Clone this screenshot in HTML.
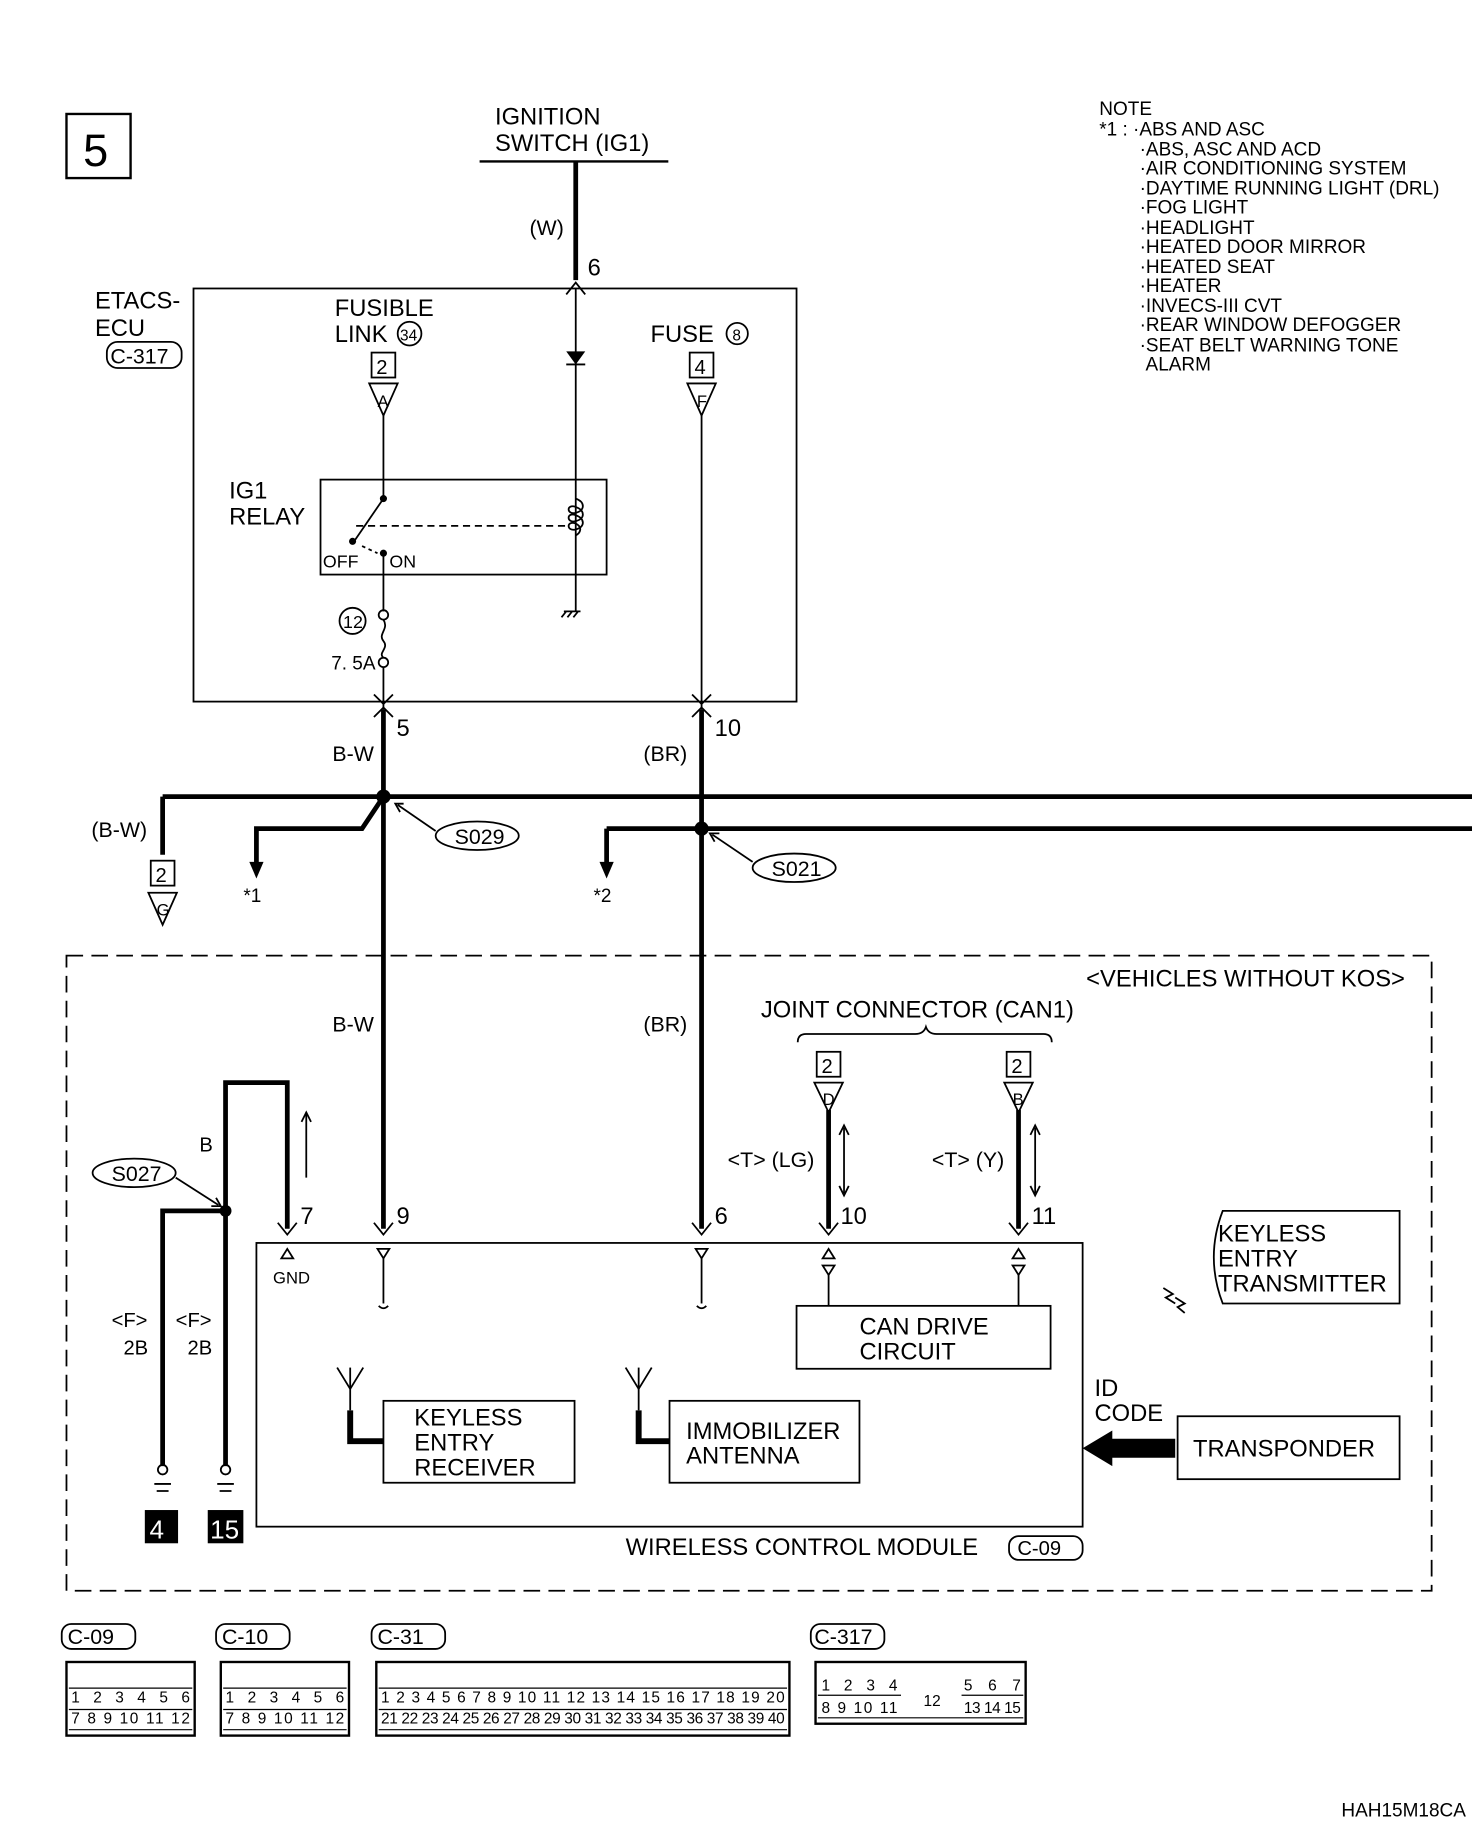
<!DOCTYPE html>
<html><head><meta charset="utf-8"><style>
html,body{margin:0;padding:0;background:#fff}
svg{display:block}
text{font-family:"Liberation Sans Narrow","Liberation Sans",sans-serif;fill:#000}
</style></head><body>
<svg width="1472" height="1846" viewBox="0 0 1240 1555" preserveAspectRatio="none" xmlns="http://www.w3.org/2000/svg">
<g fill="none" stroke="#000" stroke-width="1.5">
<!-- box 5 -->
<rect x="56" y="96" width="54" height="54" stroke-width="2"/>
<!-- ignition -->
<line x1="404" y1="136" x2="563" y2="136" stroke-width="2"/>
<line x1="485" y1="136" x2="485" y2="236" stroke-width="4"/>
<polyline points="477,248 485,238 493,248"/>
<!-- ETACS box -->
<rect x="163" y="243" width="508" height="348"/>
<rect x="90" y="288" width="63" height="22" rx="9"/>
<circle cx="345" cy="281" r="10"/>
<circle cx="621" cy="281" r="9"/>
<!-- fusible link connector -->
<rect x="313" y="297" width="20" height="21"/>
<polygon points="311,323 335,323 323,350"/>
<rect x="581" y="297" width="20" height="21"/>
<polygon points="579,323 603,323 591,350"/>
<line x1="323" y1="350" x2="323" y2="420"/>
<line x1="591" y1="350" x2="591" y2="598"/>
<!-- diode line -->
<line x1="485" y1="243" x2="485" y2="515"/>
<line x1="477" y1="307" x2="493" y2="307"/>
<path d="M477,515 l-4,5 M482,515 l-4,5 M487,515 l-4,5 M475,515 h14"/>
<!-- relay -->
<rect x="270" y="404" width="241" height="80"/>
<line x1="323" y1="420" x2="299" y2="455"/>
<line x1="300" y1="443" x2="480" y2="443" stroke-dasharray="6,4"/>
<path d="M305,460 L318,466" stroke-dasharray="3,3"/>
<line x1="323" y1="466" x2="323" y2="515"/>
<path d="M485,420 c8,3 8,10 0,12 c-8,2 -8,-8 0,-5 c8,3 8,10 0,12 c-8,2 -8,-8 0,-5 c8,3 8,10 0,12 c-8,2 -8,-8 0,-5 c6,3 4,8 0,10"/>
<circle cx="297" cy="523" r="11"/>
<circle cx="323" cy="518" r="4"/>
<circle cx="323" cy="558" r="4"/>
<path d="M323,522 c5,8 -5,12 0,18 c5,6 -5,10 0,14"/>
<line x1="323" y1="562" x2="323" y2="598"/>
<polyline points="315,585 323,593 331,585"/>
<polyline points="583,585 591,593 599,585"/>
<polyline points="315,604 323,596 331,604"/>
<polyline points="583,604 591,596 599,604"/>
</g>
<g fill="#000">
<circle cx="323" cy="420" r="3"/><circle cx="297" cy="456" r="3"/><circle cx="323" cy="466" r="3"/>
<polygon points="477,296 493,296 485,307"/>
</g>
<g fill="none" stroke="#000" stroke-width="4">
<line x1="323" y1="598" x2="323" y2="1035"/>
<line x1="591" y1="598" x2="591" y2="1035"/>
<line x1="137" y1="671" x2="1240" y2="671"/>
<line x1="511" y1="698" x2="1240" y2="698"/>
<polyline points="137,720 137,671"/>
<polyline points="323,671 305,698 216,698 216,728"/>
<line x1="511" y1="698" x2="511" y2="728"/>
<line x1="698" y1="935" x2="698" y2="1035"/>
<line x1="858" y1="935" x2="858" y2="1035"/>
<polyline points="242,1035 242,912 190,912 190,1235"/>
<polyline points="137,1235 137,1020 190,1020"/>
</g>
<g fill="#000">
<circle cx="323" cy="671" r="6"/><circle cx="591" cy="698" r="6"/><circle cx="190" cy="1020" r="5"/>
<polygon points="210,726 222,726 216,740"/><polygon points="505,726 517,726 511,740"/>
</g>
<g fill="none" stroke="#000" stroke-width="1.5">
<rect x="127" y="725" width="20" height="21"/>
<polygon points="125,752 149,752 137,779"/>
<ellipse cx="402" cy="704" rx="35" ry="12"/>
<line x1="367" y1="700" x2="335" y2="678"/><polyline points="340,677 333,677 337,684"/>
<ellipse cx="669" cy="731" rx="35" ry="12"/>
<line x1="634" y1="726" x2="600" y2="703"/><polyline points="606,702 598,702 602,709"/>
<rect x="56" y="805" width="1150" height="535" stroke-dasharray="14,7"/>
<path d="M672,878 q0,-7 7,-7 h92 q7,0 9,-6 q2,6 9,6 h90 q7,0 7,7"/>
<rect x="688" y="886" width="20" height="21"/>
<polygon points="686,912 710,912 698,937"/>
<rect x="848" y="886" width="20" height="21"/>
<polygon points="846,912 870,912 858,937"/>
<line x1="711" y1="950" x2="711" y2="1005"/><polyline points="707,956 711,948 715,956"/><polyline points="707,999 711,1007 715,999"/>
<line x1="872" y1="950" x2="872" y2="1005"/><polyline points="868,956 872,948 876,956"/><polyline points="868,999 872,1007 876,999"/>
<line x1="258" y1="937" x2="258" y2="992"/><polyline points="254,945 258,937 262,945"/>
<ellipse cx="113" cy="988" rx="35" ry="12"/>
<line x1="148" y1="992" x2="184" y2="1015"/><polyline points="178,1016 186,1016 182,1009"/>
<polyline points="234,1030 242,1040 250,1030"/><polyline points="315,1030 323,1040 331,1030"/><polyline points="583,1030 591,1040 599,1030"/><polyline points="690,1030 698,1040 706,1030"/><polyline points="850,1030 858,1040 866,1030"/>
<rect x="216" y="1047" width="696" height="239"/>
<polygon points="237,1060 247,1060 242,1052"/>
<polygon points="318,1052 328,1052 323,1060"/><line x1="323" y1="1060" x2="323" y2="1098"/><path d="M319,1100 q4,4 8,0"/>
<polygon points="586,1052 596,1052 591,1060"/><line x1="591" y1="1060" x2="591" y2="1098"/><path d="M587,1100 q4,4 8,0"/>
<polygon points="693,1060 703,1060 698,1052"/><polygon points="693,1066 703,1066 698,1074"/><line x1="698" y1="1074" x2="698" y2="1100"/>
<polygon points="853,1060 863,1060 858,1052"/><polygon points="853,1066 863,1066 858,1074"/><line x1="858" y1="1074" x2="858" y2="1100"/>
<rect x="671" y="1100" width="214" height="53"/>
<rect x="323" y="1180" width="161" height="69"/>
<rect x="564" y="1180" width="160" height="69"/>
<polyline points="284,1152 295,1170 306,1152"/><line x1="295" y1="1152" x2="295" y2="1188"/>
<polyline points="527,1152 538,1170 549,1152"/><line x1="538" y1="1152" x2="538" y2="1188"/>
<path d="M1030,1020 h149 v78 h-149 q-15,-39 0,-78z"/>
<rect x="992" y="1193" width="187" height="53"/>
<path d="M980,1085 l8,5 l-6,3 l8,5 M990,1093 l8,5 l-6,3 l6,5"/>
<circle cx="137" cy="1238" r="4"/><circle cx="190" cy="1238" r="4"/>
<path d="M130,1250 h14 M132,1256 h10 M183,1250 h14 M185,1256 h10"/>
<rect x="850" y="1294" width="62" height="20" rx="8"/>
</g>
<g stroke="#000" stroke-width="5" fill="none">
<polyline points="295,1188 295,1214 323,1214"/>
<polyline points="538,1188 538,1214 564,1214"/>
</g>
<polygon points="912,1220 937,1205 937,1212 990,1212 990,1228 937,1228 937,1235" fill="#000"/>
<rect x="122" y="1272" width="28" height="28" fill="#000"/>
<rect x="175" y="1272" width="30" height="28" fill="#000"/>
<g font-size="20">
<text x="70" y="140" font-size="38">5</text>
<text x="417" y="105">IGNITION</text>
<text x="417" y="127">SWITCH (IG1)</text>
<text x="446" y="198" font-size="18">(W)</text>
<text x="495" y="232">6</text>
<text x="80" y="260">ETACS-</text>
<text x="80" y="283">ECU</text>
<text x="93" y="306" font-size="18">C-317</text>
<text x="282" y="266">FUSIBLE</text>
<text x="282" y="288">LINK</text>
<text x="337" y="287" font-size="13">34</text>
<text x="317" y="315" font-size="17">2</text>
<text x="318" y="343" font-size="14">A</text>
<text x="548" y="288">FUSE</text>
<text x="617" y="287" font-size="13">8</text>
<text x="585" y="315" font-size="17">4</text>
<text x="587" y="343" font-size="14">F</text>
<text x="193" y="420">IG1</text>
<text x="193" y="442">RELAY</text>
<text x="272" y="478" font-size="15">OFF</text>
<text x="328" y="478" font-size="15">ON</text>
<text x="289" y="529" font-size="15">12</text>
<text x="279" y="564" font-size="16">7. 5A</text>
<text x="334" y="620">5</text>
<text x="602" y="620">10</text>
<text x="280" y="641" font-size="18">B-W</text>
<text x="542" y="641" font-size="18">(BR)</text>
<text x="77" y="705" font-size="18">(B-W)</text>
<text x="131" y="743" font-size="17">2</text>
<text x="132" y="771" font-size="14">G</text>
<text x="205" y="760" font-size="16">*1</text>
<text x="500" y="760" font-size="16">*2</text>
<text x="383" y="711" font-size="18">S029</text>
<text x="650" y="738" font-size="18">S021</text>
<text x="915" y="831">&lt;VEHICLES WITHOUT KOS&gt;</text>
<text x="641" y="857">JOINT CONNECTOR (CAN1)</text>
<text x="280" y="869" font-size="18">B-W</text>
<text x="542" y="869" font-size="18">(BR)</text>
<text x="692" y="904" font-size="17">2</text>
<text x="693" y="931" font-size="14">D</text>
<text x="852" y="904" font-size="17">2</text>
<text x="853" y="931" font-size="14">B</text>
<text x="613" y="983" font-size="18">&lt;T&gt; (LG)</text>
<text x="785" y="983" font-size="18">&lt;T&gt; (Y)</text>
<text x="168" y="970" font-size="17">B</text>
<text x="94" y="995" font-size="18">S027</text>
<text x="253" y="1031">7</text>
<text x="334" y="1031">9</text>
<text x="602" y="1031">6</text>
<text x="708" y="1031">10</text>
<text x="869" y="1031">11</text>
<text x="230" y="1081" font-size="14">GND</text>
<text x="94" y="1118" font-size="17">&lt;F&gt;</text>
<text x="104" y="1141" font-size="17">2B</text>
<text x="148" y="1118" font-size="17">&lt;F&gt;</text>
<text x="158" y="1141" font-size="17">2B</text>
<text x="724" y="1124">CAN DRIVE</text>
<text x="724" y="1145">CIRCUIT</text>
<text x="349" y="1201">KEYLESS</text>
<text x="349" y="1222">ENTRY</text>
<text x="349" y="1243">RECEIVER</text>
<text x="578" y="1212">IMMOBILIZER</text>
<text x="578" y="1233">ANTENNA</text>
<text x="1026" y="1046">KEYLESS</text>
<text x="1026" y="1067">ENTRY</text>
<text x="1026" y="1088">TRANSMITTER</text>
<text x="922" y="1176">ID</text>
<text x="922" y="1197">CODE</text>
<text x="1005" y="1227">TRANSPONDER</text>
<text x="126" y="1296" font-size="22" fill="#fff" style="fill:#fff">4</text>
<text x="177" y="1296" font-size="22" style="fill:#fff">15</text>
<text x="527" y="1310">WIRELESS CONTROL MODULE</text>
<text x="857" y="1310" font-size="17">C-09</text>
</g>
<g font-size="16">
<text x="926" y="97">NOTE</text>
<text x="926" y="114">*1 : ·ABS AND ASC</text>
<text x="960" y="131">·ABS, ASC AND ACD</text>
<text x="960" y="147">·AIR CONDITIONING SYSTEM</text>
<text x="960" y="164">·DAYTIME RUNNING LIGHT (DRL)</text>
<text x="960" y="180">·FOG LIGHT</text>
<text x="960" y="197">·HEADLIGHT</text>
<text x="960" y="213">·HEATED DOOR MIRROR</text>
<text x="960" y="230">·HEATED SEAT</text>
<text x="960" y="246">·HEATER</text>
<text x="960" y="263">·INVECS-III CVT</text>
<text x="960" y="279">·REAR WINDOW DEFOGGER</text>
<text x="960" y="296">·SEAT BELT WARNING TONE</text>
<text x="965" y="312">ALARM</text>
</g>
<!-- bottom connectors -->
<g fill="none" stroke="#000" stroke-width="1.5">
<rect x="52" y="1368" width="62" height="21" rx="8"/>
<rect x="182" y="1368" width="62" height="21" rx="8"/>
<rect x="313" y="1368" width="62" height="21" rx="8"/>
<rect x="683" y="1368" width="62" height="21" rx="8"/>
<rect x="56" y="1400" width="108" height="62" stroke-width="2"/>
<rect x="186" y="1400" width="108" height="62" stroke-width="2"/>
<rect x="317" y="1400" width="348" height="62" stroke-width="2"/>
<rect x="687" y="1400" width="177" height="52" stroke-width="2"/>
</g>
<g font-size="18">
<text x="57" y="1385">C-09</text><text x="187" y="1385">C-10</text><text x="318" y="1385">C-31</text><text x="686" y="1385">C-317</text>
</g>
<g font-size="13">
<text x="60" y="1434" textLength="100">1 2 3 4 5 6</text>
<text x="60" y="1452" textLength="100">7 8 9 10 11 12</text>
<text x="190" y="1434" textLength="100">1 2 3 4 5 6</text>
<text x="190" y="1452" textLength="100">7 8 9 10 11 12</text>
<text x="321" y="1434" textLength="340">1 2 3 4 5 6 7 8 9 10 11 12 13 14 15 16 17 18 19 20</text>
<text x="321" y="1452" textLength="340">21 22 23 24 25 26 27 28 29 30 31 32 33 34 35 36 37 38 39 40</text>
<text x="692" y="1424" textLength="64">1 2 3 4</text>
<text x="692" y="1443" textLength="64">8 9 10 11</text>
<text x="778" y="1437">12</text>
<text x="812" y="1424" textLength="48">5 6 7</text>
<text x="812" y="1443" textLength="48">13 14 15</text>
<text x="1130" y="1530" font-size="16">HAH15M18CA</text>
</g>
<g stroke="#000" stroke-width="1" fill="none">
<path d="M58,1422 h104 M58,1440 h104 M58,1457 h104 M188,1422 h104 M188,1440 h104 M188,1457 h104 M319,1422 h344 M319,1440 h344 M319,1457 h344 M689,1428 h70 M689,1447 h173 M810,1428 h52"/>
</g>
</svg>
</body></html>
